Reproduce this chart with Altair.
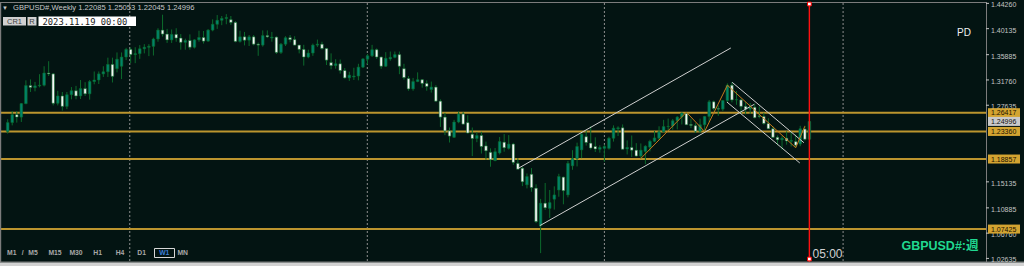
import altair as alt
import pandas as pd

# ---------------------------------------------------------------- colours
BG = "#031412"
TEAL = "#00846A"
WHITE = "#F6F6F6"
WICK = "#0C6A2C"
GOLD_LINE = "#BC952E"
GOLD_BOX = "#D3A431"
ZIGZAG = "#C57A1C"
CHANNEL = "#CFCFCF"
AXIS_TXT = "#C4C4C4"
FONT = "Liberation Sans"

# ---------------------------------------------------------------- weekly GBPUSD# candles (oldest -> newest)
opens = [
    1.2335, 1.2480, 1.2610, 1.2570, 1.2790, 1.3085, 1.3050, 1.3080, 1.3090, 1.3290,
    1.3275, 1.2795, 1.2915, 1.2745, 1.2935, 1.3000, 1.2915, 1.3035, 1.2950, 1.3150,
    1.3175, 1.3275, 1.3310, 1.3430, 1.3360, 1.3400, 1.3550, 1.3675, 1.3590, 1.3605,
    1.3685, 1.3710, 1.3725, 1.3845, 1.3990, 1.3925, 1.3830, 1.3920, 1.3860, 1.3790,
    1.3820, 1.3710, 1.3830, 1.3870, 1.3810, 1.3990, 1.4085, 1.4150, 1.4180, 1.4160,
    1.4115, 1.3805, 1.3880, 1.3825, 1.3880, 1.3760, 1.3745, 1.3900, 1.3860, 1.3875,
    1.3625, 1.3760, 1.3865, 1.3835, 1.3745, 1.3675, 1.3550, 1.3615, 1.3745, 1.3760,
    1.3690, 1.3460, 1.3410, 1.3440, 1.3330, 1.3210, 1.3225, 1.3240, 1.3385, 1.3515,
    1.3570, 1.3670, 1.3550, 1.3400, 1.3520, 1.3545, 1.3590, 1.3360, 1.3200, 1.3030,
    1.3150, 1.3180, 1.3120, 1.3020, 1.3060, 1.2830, 1.2570, 1.2345, 1.2240, 1.2490,
    1.2620, 1.2480, 1.2290, 1.2220, 1.2270, 1.2100, 1.1995, 1.1860, 1.1985, 1.2160,
    1.2060, 1.2130, 1.1815, 1.1735, 1.1465, 1.1637, 1.1410, 1.0800, 1.1165, 1.1080,
    1.1230, 1.1380, 1.1590, 1.1300, 1.1775, 1.1895, 1.2035, 1.2250, 1.2145, 1.2090,
    1.2045, 1.2060, 1.2060, 1.2225, 1.2380, 1.2395, 1.2050, 1.2075, 1.2030, 1.1935,
    1.2010, 1.2080, 1.2175, 1.2225, 1.2330, 1.2415, 1.2425, 1.2510, 1.2570, 1.2630,
    1.2450, 1.2430, 1.2340, 1.2445, 1.2580, 1.2820, 1.2710, 1.2700, 1.2840, 1.3090,
    1.2850, 1.2850, 1.2745, 1.2700, 1.2730, 1.2590, 1.2580, 1.2465, 1.2380, 1.2240,
    1.2200, 1.2225, 1.2175, 1.2170, 1.2130, 1.2375, 1.22085,
]
highs = [
    1.2535, 1.2670, 1.2670, 1.2800, 1.3170, 1.3185, 1.3145, 1.3270, 1.3400, 1.3482,
    1.3290, 1.3000, 1.2980, 1.2980, 1.3060, 1.3080, 1.3175, 1.3140, 1.3175, 1.3315,
    1.3315, 1.3400, 1.3540, 1.3540, 1.3625, 1.3625, 1.3700, 1.3705, 1.3710, 1.3745,
    1.3760, 1.3760, 1.3865, 1.4020, 1.4241, 1.4010, 1.4000, 1.4020, 1.3925, 1.3850,
    1.3920, 1.3840, 1.3980, 1.3975, 1.4005, 1.4165, 1.4235, 1.4220, 1.4250, 1.4220,
    1.4135, 1.3980, 1.3960, 1.3910, 1.3910, 1.3785, 1.3985, 1.3985, 1.3960, 1.3890,
    1.3780, 1.3890, 1.3910, 1.3890, 1.3750, 1.3750, 1.3670, 1.3770, 1.3835, 1.3800,
    1.3700, 1.3610, 1.3515, 1.3510, 1.3370, 1.3310, 1.3375, 1.3440, 1.3530, 1.3600,
    1.3749, 1.3690, 1.3560, 1.3630, 1.3640, 1.3640, 1.3640, 1.3440, 1.3240, 1.3210,
    1.3300, 1.3190, 1.3170, 1.3150, 1.3090, 1.2860, 1.2640, 1.2400, 1.2525, 1.2665,
    1.2650, 1.2600, 1.2400, 1.2325, 1.2330, 1.2170, 1.2060, 1.2065, 1.2245, 1.2293,
    1.2276, 1.2150, 1.1900, 1.1760, 1.1650, 1.1738, 1.1473, 1.1235, 1.1495, 1.1380,
    1.1440, 1.1645, 1.1600, 1.1855, 1.2030, 1.2153, 1.2310, 1.2345, 1.2420, 1.2240,
    1.2110, 1.2120, 1.2250, 1.2435, 1.2420, 1.2450, 1.2190, 1.2270, 1.2145, 1.2140,
    1.2110, 1.2200, 1.2343, 1.2420, 1.2525, 1.2546, 1.2540, 1.2585, 1.2645, 1.2650,
    1.2545, 1.2470, 1.2545, 1.2590, 1.2850, 1.2840, 1.2760, 1.2850, 1.3120, 1.3140,
    1.2995, 1.2870, 1.2820, 1.2800, 1.2790, 1.2746, 1.2640, 1.2550, 1.2420, 1.2270,
    1.2260, 1.2337, 1.2337, 1.2288, 1.2428, 1.2430, 1.25053,
]
lows = [
    1.2300, 1.2435, 1.2480, 1.2490, 1.2780, 1.2980, 1.2990, 1.3055, 1.3070, 1.3240,
    1.2760, 1.2760, 1.2675, 1.2700, 1.2860, 1.2860, 1.2865, 1.2915, 1.2855, 1.3105,
    1.3110, 1.3225, 1.3225, 1.3135, 1.3300, 1.3190, 1.3500, 1.3450, 1.3450, 1.3520,
    1.3610, 1.3565, 1.3575, 1.3800, 1.3885, 1.3780, 1.3780, 1.3800, 1.3670, 1.3670,
    1.3670, 1.3690, 1.3800, 1.3770, 1.3800, 1.3970, 1.4010, 1.4070, 1.4085, 1.4075,
    1.3790, 1.3785, 1.3740, 1.3730, 1.3740, 1.3570, 1.3720, 1.3860, 1.3800, 1.3600,
    1.3600, 1.3730, 1.3790, 1.3740, 1.3610, 1.3410, 1.3530, 1.3570, 1.3715, 1.3670,
    1.3420, 1.3350, 1.3360, 1.3280, 1.3195, 1.3160, 1.3175, 1.3170, 1.3370, 1.3430,
    1.3550, 1.3520, 1.3358, 1.3390, 1.3490, 1.3530, 1.3270, 1.3180, 1.3000, 1.3000,
    1.3140, 1.3050, 1.3000, 1.2970, 1.2820, 1.2410, 1.2275, 1.2155, 1.2230, 1.2470,
    1.2450, 1.2300, 1.1934, 1.2160, 1.1975, 1.1875, 1.1760, 1.1850, 1.1960, 1.2005,
    1.2040, 1.1790, 1.1717, 1.1444, 1.1406, 1.1351, 1.0840, 1.0350, 1.1055, 1.0924,
    1.1060, 1.1270, 1.1147, 1.1260, 1.1710, 1.1765, 1.1900, 1.2105, 1.2040, 1.2000,
    1.1990, 1.1840, 1.2040, 1.2170, 1.2260, 1.2040, 1.1960, 1.1920, 1.1920, 1.1895,
    1.1803, 1.2010, 1.2160, 1.2190, 1.2320, 1.2345, 1.2365, 1.2370, 1.2450, 1.2440,
    1.2390, 1.2310, 1.2310, 1.2335, 1.2490, 1.2680, 1.2590, 1.2670, 1.2800, 1.2810,
    1.2770, 1.2620, 1.2615, 1.2620, 1.2550, 1.2550, 1.2445, 1.2375, 1.2230, 1.2110,
    1.2037, 1.2120, 1.2090, 1.2070, 1.2095, 1.2187, 1.22045,
]
closes = [
    1.2480, 1.2610, 1.2570, 1.2790, 1.3085, 1.3055, 1.3080, 1.3090, 1.3290, 1.3275,
    1.2795, 1.2915, 1.2745, 1.2935, 1.3000, 1.2915, 1.3035, 1.2950, 1.3150, 1.3175,
    1.3275, 1.3310, 1.3430, 1.3235, 1.3515, 1.3550, 1.3675, 1.3590, 1.3605, 1.3685,
    1.3710, 1.3725, 1.3845, 1.3990, 1.3925, 1.3830, 1.3920, 1.3860, 1.3790, 1.3820,
    1.3710, 1.3830, 1.3870, 1.3810, 1.3990, 1.4085, 1.4150, 1.4180, 1.4195, 1.4115,
    1.3805, 1.3880, 1.3825, 1.3880, 1.3760, 1.3745, 1.3900, 1.3880, 1.3875, 1.3625,
    1.3760, 1.3865, 1.3835, 1.3745, 1.3675, 1.3550, 1.3615, 1.3745, 1.3760, 1.3690,
    1.3500, 1.3410, 1.3440, 1.3330, 1.3210, 1.3255, 1.3240, 1.3385, 1.3520, 1.3570,
    1.3670, 1.3550, 1.3400, 1.3530, 1.3545, 1.3590, 1.3400, 1.3215, 1.3030, 1.3150,
    1.3180, 1.3120, 1.3070, 1.3060, 1.2830, 1.2570, 1.2345, 1.2260, 1.2490, 1.2620,
    1.2455, 1.2310, 1.2220, 1.2270, 1.2090, 1.2020, 1.1875, 1.2005, 1.2170, 1.2070,
    1.2130, 1.1830, 1.1720, 1.1515, 1.1600, 1.1420, 1.0865, 1.1165, 1.1090, 1.1175,
    1.1300, 1.1600, 1.1370, 1.1815, 1.1895, 1.2090, 1.2290, 1.2155, 1.2065, 1.2050,
    1.2075, 1.2090, 1.2225, 1.2390, 1.2395, 1.2045, 1.2075, 1.2030, 1.1935, 1.2030,
    1.2095, 1.2175, 1.2230, 1.2330, 1.2415, 1.2420, 1.2510, 1.2570, 1.2635, 1.2445,
    1.2435, 1.2340, 1.2445, 1.2580, 1.2820, 1.2710, 1.2700, 1.2840, 1.3090, 1.2850,
    1.2855, 1.2745, 1.2700, 1.2730, 1.2560, 1.2580, 1.2465, 1.2380, 1.2240, 1.2200,
    1.2225, 1.2180, 1.2190, 1.2110, 1.2380, 1.2208, 1.24996,
]

# horizontal support / resistance levels
level_prices = [1.26417, 1.23360, 1.18857, 1.07425]
current_price = 1.24996

# price scale labels on the right
tick_prices = [1.44260, 1.40135, 1.35885, 1.31760, 1.27635, 1.15135, 1.10885, 1.06760, 1.02635]

# yearly period separators (bar index)
separator_bars = [26.8, 78.95, 131.0, 183.4]

# trend channels: (bar1, price1, bar2, price2)
channel_bar1 = [112.09, 116.8, 159.05, 157.9]
channel_p1 = [1.1734, 1.0797, 1.3138, 1.2816]
channel_bar2 = [158.76, 163.9, 174.8, 173.9]
channel_p2 = [1.3698, 1.2779, 1.2152, 1.1821]

# ZigZag swing points
zz_bars = [139, 149, 153, 158, 173, 175]
zz_prices = [1.1895, 1.2650, 1.2335, 1.3090, 1.2070, 1.2420]

current_bar = 176

# ---------------------------------------------------------------- frames
bars = pd.DataFrame({"i": list(range(len(opens))), "open": opens, "high": highs,
                     "low": lows, "close": closes})
bars["dir"] = ["up" if c >= o else "down" for o, c in zip(opens, closes)]

levels = pd.DataFrame({"price": level_prices, "label": [f"{p:.5f}" for p in level_prices]})
cur = pd.DataFrame({"price": [current_price], "label": [f"{current_price:.5f}"]})
ticks = pd.DataFrame({"price": tick_prices, "label": [f"{p:.5f}" for p in tick_prices]})
seps = pd.DataFrame({"i": separator_bars})
chans = pd.DataFrame({"b1": channel_bar1, "p1": channel_p1, "b2": channel_bar2, "p2": channel_p2})
zz = pd.DataFrame({"i": zz_bars, "p": zz_prices})
now = pd.DataFrame({"i": [current_bar]})
one = pd.DataFrame({"k": [0]})

XS = alt.Scale(domain=[-0.587, 222.02], nice=False, zero=False)
YS = alt.Scale(domain=[1.01398, 1.44810], nice=False, zero=False)


def xq(field):
    return alt.X(field, type="quantitative", scale=XS, axis=None)


def yq(field):
    return alt.Y(field, type="quantitative", scale=YS, axis=None)


# ---------------------------------------------------------------- chart layers
separators = alt.Chart(seps).mark_rule(color="#8E8E8E", strokeDash=[2, 2], strokeWidth=1).encode(
    x=xq("i"), y=alt.value(3), y2=alt.value(262))

level_lines = alt.Chart(levels).mark_rule(color=GOLD_LINE, strokeWidth=2).encode(
    y=yq("price"), x=alt.value(0), x2=alt.value(986))

wicks = alt.Chart(bars).mark_rule(color=WICK, strokeWidth=1).encode(
    x=xq("i"), y=yq("low"), y2=alt.Y2("high"))

bodies = alt.Chart(bars).mark_bar(size=2.6, stroke=WICK, strokeWidth=0.6).encode(
    x=xq("i"), y=yq("open"), y2=alt.Y2("close"),
    color=alt.Color("dir:N", scale=alt.Scale(domain=["up", "down"], range=[TEAL, WHITE]), legend=None))

channels = alt.Chart(chans).mark_rule(color=CHANNEL, strokeWidth=1).encode(
    x=xq("b1"), y=yq("p1"), x2=alt.X2("b2"), y2=alt.Y2("p2"))

zigzag = alt.Chart(zz).mark_line(color=ZIGZAG, strokeWidth=1).encode(
    x=xq("i"), y=yq("p"), order="i:Q")

now_line = alt.Chart(now).mark_rule(color="#FF1010", strokeWidth=1.4).encode(
    x=xq("i"), y=alt.value(3), y2=alt.value(262))
now_marks = alt.Chart(pd.DataFrame({"i": [current_bar, current_bar], "py": [4, 259]})).mark_square(
    size=14, fill="#FFFFFF", stroke="#FF0000", strokeWidth=1, opacity=1).encode(
    x=xq("i"), y=alt.Y("py:Q", scale=None))

# frame around the plotting area
frame = alt.Chart(pd.DataFrame({
    "x": [0, 0, 986, 0], "x2": [986, 1.2, 987, 1024],
    "y": [2, 2, 2, 261.5], "y2": [3, 262, 262, 262.5],
    "c": ["#7C7C7C", "#7C7C7C", "#7C7C7C", "#7C7C7C"],
})).mark_rect().encode(
    x=alt.X("x:Q", scale=None), x2="x2:Q", y=alt.Y("y:Q", scale=None), y2="y2:Q",
    color=alt.Color("c:N", scale=None))
bottom_bar = alt.Chart(one).mark_rect(color="#D2D2D2").encode(
    x=alt.value(0), x2=alt.value(1024), y=alt.value(262.5), y2=alt.value(266))

# right price scale
tick_marks = alt.Chart(ticks).mark_rule(color=AXIS_TXT, strokeWidth=1).encode(
    y=yq("price"), x=alt.value(986), x2=alt.value(989))
tick_text = alt.Chart(ticks).mark_text(align="left", baseline="middle", dy=2, font=FONT,
                                       fontSize=7, color=AXIS_TXT).encode(
    y=yq("price"), x=alt.value(991), text="label:N")

level_boxes = alt.Chart(levels).mark_rule(color=GOLD_BOX, strokeWidth=9, strokeCap="butt").encode(
    y=yq("price"), x=alt.value(988), x2=alt.value(1020))
level_text = alt.Chart(levels).mark_text(align="left", baseline="middle", dy=0.5, font=FONT,
                                         fontSize=7, color="#1A1200").encode(
    y=yq("price"), x=alt.value(991), text="label:N")
cur_box = alt.Chart(cur).mark_rule(color="#C9C9C9", strokeWidth=9, strokeCap="butt").encode(
    y=yq("price"), x=alt.value(988), x2=alt.value(1020))
cur_text = alt.Chart(cur).mark_text(align="left", baseline="middle", dy=0.5, font=FONT,
                                    fontSize=7, color="#101010").encode(
    y=yq("price"), x=alt.value(991), text="label:N")

# header and tool widgets
header = alt.Chart(one).mark_text(align="left", baseline="middle", font=FONT, fontSize=7.6,
                                  color="#C8C8C8").encode(
    x=alt.value(13), y=alt.value(8),
    text=alt.value("GBPUSD#,Weekly  1.22085 1.25053 1.22045 1.24996"))
header_arrow = alt.Chart(one).mark_text(align="center", baseline="middle", font=FONT, fontSize=6,
                                        color="#C8C8C8").encode(
    x=alt.value(5), y=alt.value(8), text=alt.value("▼"))

widget_boxes = alt.Chart(pd.DataFrame({
    "x": [3, 27.5, 38.5], "x2": [26, 36.5, 136], "y": [17, 17, 16.5], "y2": [25.5, 25.5, 26],
    "c": ["#D0D0D0", "#D0D0D0", "#FFFFFF"],
})).mark_rect().encode(
    x=alt.X("x:Q", scale=None), x2="x2:Q", y=alt.Y("y:Q", scale=None), y2="y2:Q",
    color=alt.Color("c:N", scale=None))
widget_text = alt.Chart(pd.DataFrame({
    "x": [14.5, 32], "t": ["CR1", "R"],
})).mark_text(align="center", baseline="middle", font=FONT, fontSize=7.5, color="#404040").encode(
    x=alt.X("x:Q", scale=None), y=alt.value(21.5), text="t:N")
date_text = alt.Chart(one).mark_text(align="left", baseline="middle", font="DejaVu Sans Mono",
                                     fontSize=8.8, color="#202020").encode(
    x=alt.value(42.5), y=alt.value(21.5), text=alt.value("2023.11.19 00:00"))

pd_text = alt.Chart(one).mark_text(align="center", baseline="middle", font=FONT, fontSize=10,
                                   color="#F0F0F0").encode(
    x=alt.value(964), y=alt.value(32.5), text=alt.value("PD"))

symbol_text = alt.Chart(one).mark_text(align="right", baseline="middle", font=FONT + ", Noto Sans CJK JP",
                                       fontSize=12.5, fontWeight="bold", color="#20D890").encode(
    x=alt.value(978.5), y=alt.value(246), text=alt.value("GBPUSD#:週"))

time_text = alt.Chart(one).mark_text(align="left", baseline="alphabetic", font=FONT, fontSize=12,
                                     color="#D0D0D0").encode(
    x=alt.value(812.5), y=alt.value(258), text=alt.value("05:00"))

# timeframe toolbar
tf = pd.DataFrame({
    "x": [11.7, 22.7, 33, 55, 76, 97.7, 120, 141.7, 164.3, 182.7],
    "t": ["M1", "/", "M5", "M15", "M30", "H1", "H4", "D1", "W1", "MN"],
    "c": ["#A8A8A8"] * 8 + ["#3C7FD8", "#A8A8A8"],
})
tf_box = alt.Chart(one).mark_rect(fill=BG, stroke="#D8D8D8", strokeWidth=1).encode(
    x=alt.value(154.5), x2=alt.value(174.5), y=alt.value(248.5), y2=alt.value(257.5))
tf_text = alt.Chart(tf).mark_text(align="center", baseline="middle", font=FONT, fontSize=6.8,
                                  fontWeight="bold").encode(
    x=alt.X("x:Q", scale=None), y=alt.value(253), text="t:N", color=alt.Color("c:N", scale=None))

chart = alt.layer(
    separators, level_lines, wicks, bodies, channels, zigzag, now_line,
    frame, bottom_bar, tick_marks, tick_text, level_boxes, level_text, cur_box, cur_text,
    header, header_arrow, widget_boxes, widget_text, date_text, pd_text, symbol_text,
    time_text, now_marks, tf_box, tf_text,
).properties(
    width=1024, height=266, padding=0,
    autosize=alt.AutoSizeParams(type="none"),
    background=BG,
).configure_view(strokeWidth=0, fill=BG)

chart.save("out.html", embed_options={"renderer": "svg", "actions": False})
